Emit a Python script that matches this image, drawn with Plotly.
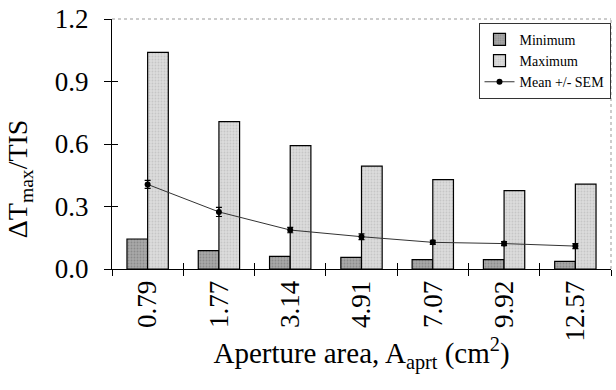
import plotly.graph_objects as go

categories = ["0.79", "1.77", "3.14", "4.91", "7.07", "9.92", "12.57"]
minimum = [0.144, 0.088, 0.061, 0.056, 0.045, 0.045, 0.037]
maximum = [1.04, 0.707, 0.592, 0.494, 0.429, 0.376, 0.407]
mean = [0.406, 0.274, 0.187, 0.155, 0.128, 0.122, 0.110]
sem = [0.019, 0.022, 0.013, 0.014, 0.010, 0.010, 0.012]
y_ticks = [0.0, 0.3, 0.6, 0.9, 1.2]
y_ticktext = ["0.0", "0.3", "0.6", "0.9", "1.2"]

FONT = "Liberation Serif, Times New Roman, serif"

fig = go.Figure()
fig.add_trace(go.Bar(
    x=categories, y=minimum, name="Minimum",
    marker=dict(color="#a3a3a3", line=dict(color="black", width=1.2),
                pattern=dict(shape=".", fgcolor="#6e6e6e", bgcolor="#a8a8a8", size=3, solidity=0.3)),
))
fig.add_trace(go.Bar(
    x=categories, y=maximum, name="Maximum",
    marker=dict(color="#d6d6d6", line=dict(color="black", width=1.2),
                pattern=dict(shape=".", fgcolor="#b0b0b0", bgcolor="#dcdcdc", size=3, solidity=0.3)),
))
fig.add_trace(go.Scatter(
    x=categories, y=mean, name="Mean +/- SEM", mode="lines+markers",
    line=dict(color="#333333", width=1),
    marker=dict(color="black", size=6),
    error_y=dict(type="data", array=sem, color="black", thickness=1.2, width=3),
))

# overlay axes for crossing ticks
fig.add_trace(go.Scatter(x=[None], y=[None], xaxis="x2", yaxis="y2", showlegend=False, hoverinfo="skip"))

fig.update_layout(
    width=616, height=390,
    margin=dict(l=112, r=5, t=19, b=121),
    paper_bgcolor="white", plot_bgcolor="white",
    barmode="group", bargap=0.42, bargroupgap=0,
    font=dict(family=FONT, color="black"),
    showlegend=True,
    legend=dict(
        x=0.999, y=0.985, xanchor="right", yanchor="top",
        bgcolor="white", bordercolor="#333333", borderwidth=1,
        font=dict(family=FONT, size=14, color="black"),
        tracegroupgap=0, itemwidth=30, traceorder="normal",
    ),
    xaxis=dict(
        type="category", categoryorder="array", categoryarray=categories,
        range=[-0.5, 6.5],
        showline=True, linecolor="black", linewidth=1,
        ticks="outside", ticklen=6, tickcolor="black", tickson="boundaries",
        tickangle=-90, tickfont=dict(family=FONT, size=27),
        showgrid=False, zeroline=False,
        title=dict(text="Aperture area, A<sub>aprt</sub> (cm<sup>2</sup>)",
                   font=dict(family=FONT, size=29), standoff=2),
    ),
    yaxis=dict(
        range=[0, 1.2], tickvals=y_ticks, ticktext=y_ticktext,
        showline=True, linecolor="black", linewidth=1,
        ticks="outside", ticklen=7, tickcolor="black",
        tickfont=dict(family=FONT, size=27), ticklabelstandoff=10,
        showgrid=False, zeroline=False,
    ),
    xaxis2=dict(
        overlaying="x", range=[-0.5, 6.5], tickvals=[0.5, 1.5, 2.5, 3.5, 4.5, 5.5, 6.5],
        ticks="inside", ticklen=6, tickcolor="black", showticklabels=False,
        showgrid=False, zeroline=False, showline=False, side="bottom", anchor="y2",
    ),
    yaxis2=dict(
        overlaying="y", range=[0, 1.2], tickvals=y_ticks,
        ticks="inside", ticklen=6, tickcolor="black", showticklabels=False,
        showgrid=False, zeroline=False, showline=False, side="left", anchor="x2",
    ),
    annotations=[
        dict(text="ΔT<sub>max</sub>/TIS", textangle=-90, xref="paper", yref="paper",
             x=-0.186, y=0.36, xanchor="center", yanchor="middle", showarrow=False,
             font=dict(family=FONT, size=28, color="black")),
    ],
    shapes=[
        dict(type="line", xref="paper", yref="paper", x0=0, x1=1, y0=1, y1=1,
             line=dict(color="#999999", width=1, dash="dot")),
        dict(type="line", xref="paper", yref="paper", x0=1, x1=1, y0=0, y1=1,
             line=dict(color="#999999", width=1, dash="dot")),
    ],
)

fig.write_html("out.html")
